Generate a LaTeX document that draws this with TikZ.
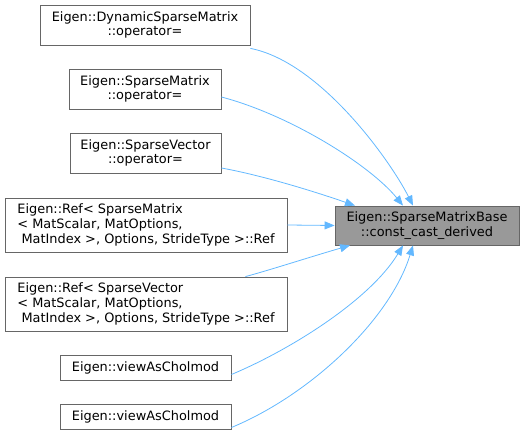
\documentclass[tikz,border=0pt]{standalone}
\usepackage{fontspec}
\setmainfont{DejaVu Sans}
\usetikzlibrary{arrows.meta}
\definecolor{edgeblue}{HTML}{63B8FF}
\definecolor{boxgray}{HTML}{666666}
\definecolor{fillgray}{HTML}{999999}
\tikzset{
  fn/.style={draw=boxgray, fill=white, line width=0.8bp, inner sep=0pt, font=\fontsize{12.9bp}{14.6bp}\selectfont, align=center},
  fnl/.style={fn, align=left},
  hl/.style={fn, fill=fillgray},
  edge/.style={draw=edgeblue, line width=0.8bp, {Triangle[length=10bp,width=8bp]}-},
}
\begin{document}
\begin{tikzpicture}[x=1bp,y=-1bp]
\useasboundingbox (0,0) rectangle (524,435);
\node[fn, minimum width=210bp, minimum height=40bp] (b1) at (145,25) {Eigen::DynamicSparseMatrix\\::operator=};
\node[fn, minimum width=152bp, minimum height=40bp] (b2) at (145,89) {Eigen::SparseMatrix\\::operator=};
\node[fn, minimum width=151bp, minimum height=40bp] (b3) at (145.5,153) {Eigen::SparseVector\\::operator=};
\node[fnl, minimum width=282bp, minimum height=54bp] (b4) at (146,225) {Eigen::Ref\textless{} SparseMatrix\\\textless{} MatScalar, MatOptions,\\\ MatIndex \textgreater{}, Options, StrideType \textgreater{}::Ref};
\node[fnl, minimum width=282bp, minimum height=54bp] (b5) at (146,304) {Eigen::Ref\textless{} SparseVector\\\textless{} MatScalar, MatOptions,\\\ MatIndex \textgreater{}, Options, StrideType \textgreater{}::Ref};
\node[fn, minimum width=171bp, minimum height=25bp] (b6) at (145.5,367.5) {Eigen::viewAsCholmod};
\node[fn, minimum width=171bp, minimum height=25bp] (b7) at (145.5,416.5) {Eigen::viewAsCholmod};
\node[hl, minimum width=184bp, minimum height=39bp] (t) at (427,225.5) {Eigen::SparseMatrixBase\\::const\_cast\_derived};

\draw[edge] ([xshift=-14bp]t.north) .. controls (390,160) and (320,62) .. ([yshift=-3bp]b1.south east);
\draw[edge] ([xshift=-24bp]t.north) .. controls (370,165) and (290,115) .. ([yshift=-8bp]b2.east);
\draw[edge] ([xshift=-72bp]t.north) .. controls (310,190) and (260,175) .. ([yshift=-15bp]b3.east);
\draw[edge] (t.west) -- (b4.east);
\draw[edge] ([xshift=-77bp]t.south) .. controls (310,257) and (270,270) .. ([xshift=-42bp]b5.north east);
\draw[edge] ([xshift=-24bp]t.south) .. controls (370,300) and (290,350) .. ([yshift=-7bp]b6.east);
\draw[edge] ([xshift=-14bp]t.south) .. controls (390,320) and (310,395) .. ([yshift=-11bp]b7.east);
\end{tikzpicture}
\end{document}
